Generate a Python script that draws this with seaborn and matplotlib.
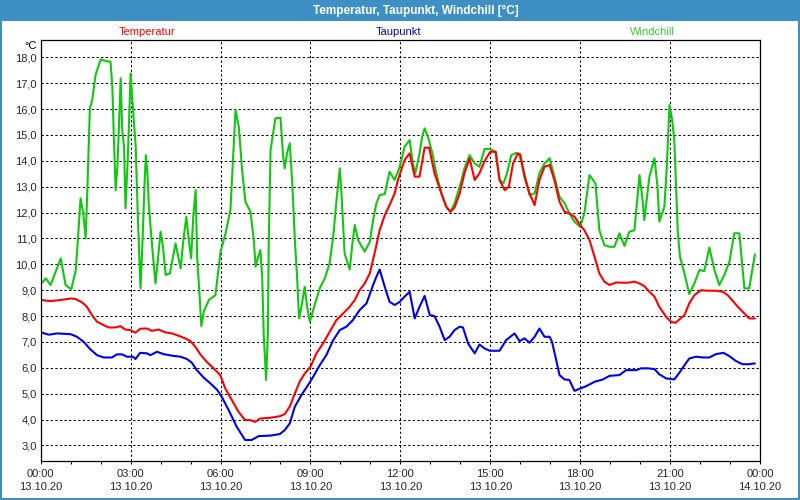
import matplotlib
matplotlib.use("Agg")
import matplotlib.pyplot as plt
import seaborn as sns
from matplotlib.patches import Rectangle

# hours since 13.10.20 00:00
wc_hours = [0.05, 0.17, 0.33, 0.67, 0.83, 1.02, 1.17, 1.24, 1.33, 1.42, 1.5, 1.56, 1.64, 1.72, 1.83,
            2.0, 2.17, 2.33, 2.39, 2.44, 2.5, 2.56, 2.67, 2.72, 2.78, 2.83, 2.91, 3.0, 3.09, 3.17,
            3.24, 3.33, 3.39, 3.47, 3.51, 3.56, 3.61, 3.72, 3.83, 3.91, 4.0, 4.08, 4.17, 4.31, 4.5,
            4.67, 4.76, 4.86, 4.94, 5.02, 5.09, 5.17, 5.22, 5.31, 5.36, 5.44, 5.61, 5.83, 6.0, 6.17,
            6.33, 6.41, 6.5, 6.61, 6.72, 6.83, 7.0, 7.11, 7.17, 7.24, 7.33, 7.39, 7.44, 7.52, 7.58,
            7.61, 7.67, 7.83, 8.0, 8.09, 8.14, 8.22, 8.31, 8.4, 8.48, 8.56, 8.62, 8.7, 8.81, 8.89,
            8.98, 9.14, 9.31, 9.48, 9.64, 9.76, 9.87, 9.98, 10.03, 10.14, 10.31, 10.4, 10.48, 10.59,
            10.81, 10.98, 11.09, 11.2, 11.31, 11.48, 11.64, 11.81, 11.98, 12.14, 12.31, 12.42, 12.5,
            12.64, 12.73, 12.81, 12.92, 13.07, 13.2, 13.37, 13.53, 13.67, 13.81, 13.98, 14.14, 14.31,
            14.48, 14.64, 14.81, 14.98, 15.18, 15.31, 15.44, 15.56, 15.7, 15.87, 15.98, 16.14, 16.31,
            16.48, 16.64, 16.81, 16.98, 17.14, 17.31, 17.48, 17.64, 17.81, 18.0, 18.14, 18.31, 18.51,
            18.64, 18.81, 18.98, 19.14, 19.31, 19.48, 19.64, 19.81, 19.98, 20.07, 20.14, 20.31, 20.48,
            20.58, 20.64, 20.81, 20.89, 20.98, 21.07, 21.14, 21.26, 21.33, 21.48, 21.64, 21.81, 21.98,
            22.14, 22.31, 22.48, 22.64, 22.81, 22.98, 23.14, 23.31, 23.48, 23.64, 23.76, 23.83]
windchill = [9.29, 9.46, 9.2, 10.23, 9.2, 9.03, 9.78, 10.94, 12.55, 11.97, 11.0, 13.0, 16.03, 16.35, 17.32,
             17.92, 17.86, 17.83, 16.87, 14.93, 12.87, 13.77, 17.19, 15.19, 14.55, 12.16, 14.22, 17.38, 15.84, 14.55,
             11.84, 9.07, 10.68, 13.26, 14.22, 13.52, 12.23, 10.68, 9.26, 10.16, 11.26, 10.68, 9.59, 9.65, 10.81,
             9.84, 10.94, 11.84, 10.94, 10.23, 11.84, 12.87, 10.29, 8.62, 7.61, 8.17, 8.62, 8.81, 10.49, 11.2,
             12.1, 13.9, 15.96, 15.32, 13.64, 12.42, 12.03, 10.94, 9.91, 10.23, 10.55, 9.52, 7.33, 5.53, 7.33,
             10.94, 14.42, 15.64, 15.67, 14.16, 13.71, 14.3, 14.68, 13.0, 10.94, 9.39, 7.91, 8.36, 9.13, 8.36,
             7.78, 8.43, 9.07, 9.46, 10.04, 11.07, 12.48, 13.71, 12.87, 10.42, 9.8, 10.81, 11.52, 10.94,
             10.49, 10.87, 11.71, 12.36, 12.68, 12.72, 13.58, 13.26, 13.77, 14.55, 14.8, 13.9, 13.52,
             14.29, 14.93, 15.26, 14.93, 14.29, 13.52, 12.74, 12.23, 12.03, 12.36, 13.0, 13.71, 14.22,
             13.9, 13.77, 14.46, 14.46, 14.35, 13.26, 13.13, 13.52, 14.22, 14.31, 14.2, 13.52, 12.68,
             12.74, 13.52, 13.9, 14.1, 13.39, 12.61, 12.36, 11.97, 11.65, 11.45, 11.97, 13.45, 13.13,
             11.32, 10.74, 10.68, 10.68, 11.2, 10.71, 11.26, 11.32, 13.45, 12.61, 11.71, 13.39, 14.1,
             13.0, 11.65, 12.23, 13.77, 16.16, 15.58, 14.8, 11.2, 10.29, 9.65, 8.85, 9.26, 9.78,
             9.74, 10.65, 9.78, 9.2, 9.59, 10.1, 11.2, 11.2, 9.07, 9.07, 9.91, 10.38]

temp_hours = [0.04, 0.32, 0.66, 1.0, 1.16, 1.38, 1.54, 1.71, 1.88, 2.1, 2.27, 2.49, 2.66, 2.82, 2.99,
              3.16, 3.32, 3.54, 3.71, 3.93, 4.16, 4.38, 4.6, 4.82, 5.0, 5.16, 5.32, 5.54, 5.77, 5.99,
              6.16, 6.38, 6.6, 6.82, 6.99, 7.16, 7.32, 7.66, 7.98, 8.14, 8.31, 8.48, 8.64, 8.81, 9.0,
              9.2, 9.42, 9.64, 9.87, 10.09, 10.31, 10.48, 10.64, 10.81, 10.98, 11.14, 11.31, 11.48, 11.64,
              11.81, 11.92, 12.03, 12.14, 12.31, 12.48, 12.64, 12.81, 12.96, 13.14, 13.37, 13.53, 13.67,
              13.81, 13.98, 14.14, 14.31, 14.48, 14.64, 14.81, 15.0, 15.18, 15.31, 15.48, 15.62, 15.76,
              15.92, 16.0, 16.14, 16.31, 16.48, 16.64, 16.81, 16.98, 17.14, 17.31, 17.48, 17.64, 17.81,
              18.0, 18.14, 18.31, 18.48, 18.64, 18.81, 18.98, 19.2, 19.37, 19.59, 19.81, 19.98, 20.14,
              20.31, 20.48, 20.64, 20.87, 21.03, 21.18, 21.31, 21.48, 21.64, 21.81, 22.03, 22.26, 22.53,
              22.76, 22.92, 23.09, 23.26, 23.42, 23.64, 23.83]
temperatur = [8.62, 8.58, 8.62, 8.68, 8.66, 8.53, 8.36, 8.04, 7.78, 7.65, 7.56, 7.56, 7.61, 7.48, 7.46,
              7.36, 7.51, 7.52, 7.43, 7.48, 7.37, 7.33, 7.24, 7.14, 7.03, 6.81, 6.53, 6.23, 5.98, 5.72,
              5.2, 4.75, 4.3, 3.98, 3.98, 3.91, 4.04, 4.07, 4.13, 4.21, 4.5, 5.01, 5.46, 5.78, 6.04,
              6.56, 6.94, 7.39, 7.85, 8.1, 8.36, 8.62, 9.0, 9.26, 9.65, 10.42, 11.32, 11.9, 12.29,
              12.74, 13.26, 13.64, 14.03, 14.29, 13.39, 13.39, 14.51, 14.51, 13.52, 12.74, 12.23, 12.03,
              12.2, 12.74, 13.52, 14.1, 13.26, 13.52, 13.99, 14.35, 14.35, 13.26, 12.87, 13.0, 13.9,
              14.29, 14.25, 13.39, 12.74, 12.29, 13.26, 13.77, 13.84, 13.26, 12.42, 12.03, 11.97, 11.84,
              11.52, 11.32, 10.94, 10.29, 9.65, 9.33, 9.2, 9.3, 9.29, 9.29, 9.33, 9.26, 9.16,
              8.94, 8.75, 8.36, 7.97, 7.78, 7.74, 7.87, 8.04, 8.49, 8.81, 9.0, 8.98, 8.98,
              8.94, 8.81, 8.59, 8.36, 8.17, 7.91, 7.91]

tau_hours = [0.04, 0.27, 0.55, 1.0, 1.21, 1.43, 1.66, 1.88, 2.1, 2.38, 2.54, 2.71, 2.88, 3.08, 3.16,
             3.32, 3.54, 3.66, 3.88, 4.1, 4.38, 4.66, 4.88, 5.04, 5.21, 5.43, 5.66, 5.88, 6.04, 6.27,
             6.54, 6.82, 7.04, 7.27, 7.66, 7.98, 8.14, 8.31, 8.48, 8.7, 8.92, 9.09, 9.31, 9.53, 9.76,
             9.98, 10.2, 10.42, 10.64, 10.87, 11.09, 11.2, 11.31, 11.48, 11.64, 11.81, 11.98, 12.14, 12.31,
             12.48, 12.64, 12.81, 12.98, 13.14, 13.31, 13.48, 13.64, 13.81, 13.98, 14.09, 14.26, 14.48,
             14.64, 14.81, 14.98, 15.31, 15.53, 15.81, 15.98, 16.14, 16.31, 16.48, 16.64, 16.81, 16.98,
             17.06, 17.2, 17.31, 17.48, 17.64, 17.81, 18.0, 18.2, 18.48, 18.76, 18.98, 19.31, 19.53,
             19.87, 20.03, 20.26, 20.48, 20.64, 20.87, 21.14, 21.31, 21.48, 21.64, 21.87, 22.09, 22.31,
             22.53, 22.78, 22.98, 23.2, 23.42, 23.64, 23.83]
taupunkt = [7.36, 7.28, 7.33, 7.3, 7.2, 7.01, 6.71, 6.49, 6.4, 6.4, 6.52, 6.52, 6.43, 6.43, 6.34,
            6.58, 6.56, 6.49, 6.62, 6.53, 6.47, 6.43, 6.34, 6.2, 5.91, 5.63, 5.4, 5.16, 4.88, 4.37,
            3.72, 3.21, 3.21, 3.36, 3.38, 3.44, 3.59, 3.85, 4.5, 4.95, 5.33, 5.65, 6.1, 6.49, 7.07,
            7.46, 7.59, 7.85, 8.23, 8.49, 9.2, 9.52, 9.8, 9.13, 8.55, 8.43, 8.55, 8.75, 8.94,
            7.91, 8.36, 8.78, 8.04, 8.0, 7.59, 7.07, 7.2, 7.46, 7.59, 7.56, 6.94, 6.56,
            6.9, 6.75, 6.66, 6.66, 7.07, 7.33, 7.03, 7.14, 6.97, 7.2, 7.52, 7.2, 7.2,
            7.01, 6.3, 5.72, 5.55, 5.53, 5.11, 5.2, 5.29, 5.46, 5.55, 5.69, 5.72, 5.91,
            5.91, 5.98, 5.98, 5.95, 5.75, 5.59, 5.55, 5.81, 6.1, 6.36, 6.43, 6.4, 6.4,
            6.53, 6.58, 6.45, 6.26, 6.14, 6.14, 6.17]

x_ticks = [0, 3, 6, 9, 12, 15, 18, 21, 24]
x_labels = ["00:00\n13.10.20", "03:00\n13.10.20", "06:00\n13.10.20", "09:00\n13.10.20",
            "12:00\n13.10.20", "15:00\n13.10.20", "18:00\n13.10.20", "21:00\n13.10.20",
            "00:00\n14.10.20"]
y_ticks = list(range(3, 19))

sns.set_style("white")
plt.rcParams['font.family'] = ['Liberation Sans', 'DejaVu Sans']

frame_blue = '#3d8fc4'
red = '#ff0000'
blue = '#0000f0'
green = '#10c810'

fig = plt.figure(figsize=(8, 5), dpi=100)
ax = fig.add_axes([40.7 / 800, 1 - 460.7 / 500, (760 - 40.7) / 800, (460.7 - 40.3) / 500])

sns.lineplot(x=wc_hours, y=windchill, ax=ax, color=green, linewidth=1.5, estimator=None, sort=False)
sns.lineplot(x=temp_hours, y=temperatur, ax=ax, color=red, linewidth=1.5, estimator=None, sort=False)
sns.lineplot(x=tau_hours, y=taupunkt, ax=ax, color=blue, linewidth=1.5, estimator=None, sort=False)

ax.set_xlim(0, 24)
ax.set_ylim(2.41, 18.66)
ax.set_xticks(x_ticks)
ax.set_xticklabels(x_labels, fontsize=8, linespacing=1.35)
ax.set_xticks(range(25), minor=True)
ax.set_yticks(y_ticks)
ax.set_yticklabels([f"{v},0" for v in y_ticks], fontsize=8)
ax.tick_params(axis='x', which='both', direction='out', length=2.5, width=0.75, color='black', pad=3.5, bottom=True)
ax.tick_params(axis='y', length=0, pad=2.7)
ax.set_xlabel("")
ax.set_ylabel("")
ax.grid(True, which='major', color='black', linestyle=(0, (2.2, 2.2)), linewidth=0.75)
for s in ax.spines.values():
    s.set_color('black')
    s.set_linewidth(0.9)

# window chrome: title bar and border
fig.patches.append(Rectangle((0, 1 - 21 / 500), 1, 21 / 500, transform=fig.transFigure,
                             facecolor=frame_blue, edgecolor='none', zorder=0))
fig.patches.append(Rectangle((0, 0), 1, 1, transform=fig.transFigure, fill=False,
                             edgecolor=frame_blue, linewidth=2.9, zorder=0))
fig.text(416 / 800, 1 - 10.5 / 500, "Temperatur, Taupunkt, Windchill [°C]", color='white',
         fontsize=8.5, fontweight='bold', ha='center', va='center')

fig.text(147 / 800, 1 - 32 / 500, "Temperatur", color=red, fontsize=8, ha='center', va='center')
fig.text(399 / 800, 1 - 32 / 500, "Taupunkt", color='#0000d0', fontsize=8, ha='center', va='center')
fig.text(652 / 800, 1 - 32 / 500, "Windchill", color='#30d030', fontsize=8, ha='center', va='center')
fig.text(37 / 800, 1 - 46 / 500, "°C", color='black', fontsize=8, ha='right', va='center')

fig.savefig("out.png", dpi=100)
